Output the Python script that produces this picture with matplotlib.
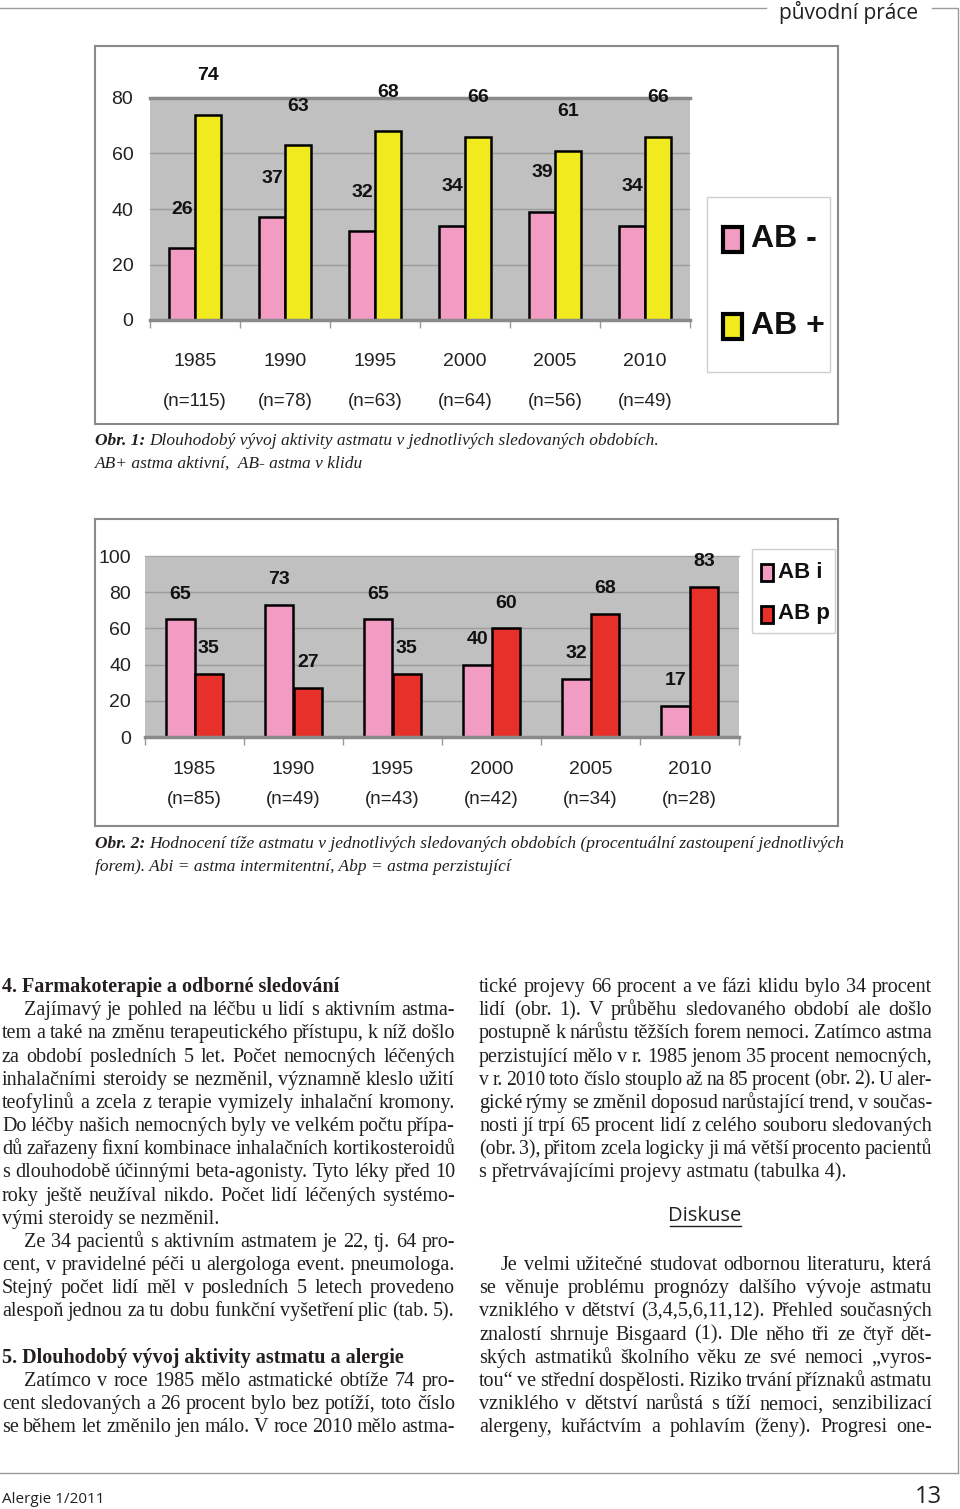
import numpy as np
import matplotlib
matplotlib.use('Agg')
import matplotlib.pyplot as plt
from matplotlib import font_manager as fm
from matplotlib.patches import Rectangle

# data
years = ['1985', '1990', '1995', '2000', '2005', '2010']
n_obr1 = [115, 78, 63, 64, 56, 49]
ab_minus = [26, 37, 32, 34, 39, 34]
ab_plus = [74, 63, 68, 66, 61, 66]
n_obr2 = [85, 49, 43, 42, 34, 28]
ab_i = [65, 73, 65, 40, 32, 17]
ab_p = [35, 27, 35, 60, 68, 83]

# text of the page, (line, kind): h=heading, i=indented justified, j=justified, l=last line
left_col = [
    ('4. Farmakoterapie a odborné sledování', 'h'),
    ('Zajímavý je pohled na léčbu u lidí s aktivním astma-', 'i'),
    ('tem a také na změnu terapeutického přístupu, k níž došlo', 'j'),
    ('za období posledních 5 let. Počet nemocných léčených', 'j'),
    ('inhalačními steroidy se nezměnil, významně kleslo užití', 'j'),
    ('teofylinů a zcela z terapie vymizely inhalační kromony.', 'j'),
    ('Do léčby našich nemocných byly ve velkém počtu přípa-', 'j'),
    ('dů zařazeny fixní kombinace inhalačních kortikosteroidů', 'j'),
    ('s dlouhodobě účinnými beta-agonisty. Tyto léky před 10', 'j'),
    ('roky ještě neužíval nikdo. Počet lidí léčených systémo-', 'j'),
    ('vými steroidy se nezměnil.', 'l'),
    ('Ze 34 pacientů s aktivním astmatem je 22, tj. 64 pro-', 'i'),
    ('cent, v pravidelné péči u alergologa event. pneumologa.', 'j'),
    ('Stejný počet lidí měl v posledních 5 letech provedeno', 'j'),
    ('alespoň jednou za tu dobu funkční vyšetření plic (tab. 5).', 'j'),
    ('', 'l'),
    ('5. Dlouhodobý vývoj aktivity astmatu a alergie', 'h'),
    ('Zatímco v roce 1985 mělo astmatické obtíže 74 pro-', 'i'),
    ('cent sledovaných a 26 procent bylo bez potíží, toto číslo', 'j'),
    ('se během let změnilo jen málo. V roce 2010 mělo astma-', 'j'),
]
right_col = [
    ('tické projevy 66 procent a ve fázi klidu bylo 34 procent', 'j'),
    ('lidí (obr. 1). V průběhu sledovaného období ale došlo', 'j'),
    ('postupně k nárůstu těžších forem nemoci. Zatímco astma', 'j'),
    ('perzistující mělo v r. 1985 jenom 35 procent nemocných,', 'j'),
    ('v r. 2010 toto číslo stouplo až na 85 procent (obr. 2). U aler-', 'j'),
    ('gické rýmy se změnil doposud narůstající trend, v součas-', 'j'),
    ('nosti jí trpí 65 procent lidí z celého souboru sledovaných', 'j'),
    ('(obr. 3), přitom zcela logicky ji má větší procento pacientů', 'j'),
    ('s přetrvávajícími projevy astmatu (tabulka 4).', 'l'),
    ('', 'l'), ('', 'l'), ('', 'l'),
    ('Je velmi užitečné studovat odbornou literaturu, která', 'i'),
    ('se věnuje problému prognózy dalšího vývoje astmatu', 'j'),
    ('vzniklého v dětství (3,4,5,6,11,12). Přehled současných', 'j'),
    ('znalostí shrnuje Bisgaard (1). Dle něho tři ze čtyř dět-', 'j'),
    ('ských astmatiků školního věku ze své nemoci „vyros-', 'j'),
    ('tou“ ve střední dospělosti. Riziko trvání příznaků astmatu', 'j'),
    ('vzniklého v dětství narůstá s tíží nemoci, senzibilizací', 'j'),
    ('alergeny, kuřáctvím a pohlavím (ženy). Progresi one-', 'j'),
]

names = {f.name for f in fm.fontManager.ttflist}
narrow = 'Liberation Sans Narrow' if 'Liberation Sans Narrow' in names else 'Liberation Sans'
serif = 'Liberation Serif'
sans = 'Open Sans'

pink = '#f29bc3'
yellow = '#f0ea1e'
red = '#e8302a'
gray = '#c0c0c0'
ink = '#231f20'

W, H = 960, 1509
fig = plt.figure(figsize=(W / 100, H / 100), dpi=100)
page = fig.add_axes([0, 0, 1, 1])
page.set_xlim(0, W)
page.set_ylim(H, 0)
page.axis('off')
renderer = fig.canvas.get_renderer()

# header / footer rules
page.plot([0, 766], [8, 8], color='#9a9a9a', lw=1)
page.plot([932, 958, 958], [8, 8, 1473], color='#9a9a9a', lw=1)
page.plot([0, 958], [1473, 1473], color='#9a9a9a', lw=1)
page.text(779, 19, 'původní práce', fontsize=15, family=sans, color=ink, va='baseline')
page.text(2, 1503, 'Alergie 1/2011', fontsize=11, family=sans, color=ink, va='baseline')
page.text(942, 1503, '13', fontsize=17, family=sans, color=ink, va='baseline', ha='right')


def bar_chart(frame, plot, a, b, ca, cb, ns, ymax, step, pad, dy_year, dy_n, top_dark):
    page.add_patch(Rectangle((frame[0], frame[1]), frame[2] - frame[0], frame[3] - frame[1],
                             facecolor='white', edgecolor='#8a8a8a', lw=1.5))
    l, t, r, btm = plot
    ax = fig.add_axes([l / W, 1 - btm / H, (r - l) / W, (btm - t) / H])
    ax.set_facecolor(gray)
    x = np.arange(len(years))
    bw = 0.29
    ax.bar(x - bw / 2, a, bw, color=ca, edgecolor='black', lw=1.8, zorder=3)
    ax.bar(x + bw / 2, b, bw, color=cb, edgecolor='black', lw=1.8, zorder=3)
    for xi, va_, vb_ in zip(x, a, b):
        ax.text(xi - bw / 2, va_ + 14, str(va_), ha='center', va='center', fontsize=14,
                fontweight='bold', family=narrow, color='#111', clip_on=False)
        ax.text(xi + bw / 2, vb_ + 14, str(vb_), ha='center', va='center', fontsize=14,
                fontweight='bold', family=narrow, color='#111', clip_on=False)
        ax.annotate(years[xi], (xi, 0), xytext=(0, -dy_year), textcoords='offset pixels',
                    ha='center', va='center', fontsize=14, family=narrow, color='#222')
        ax.annotate('(n=%d)' % ns[xi], (xi, 0), xytext=(0, -dy_n), textcoords='offset pixels',
                    ha='center', va='center', fontsize=13.5, family=narrow, color='#222')
    ax.set_xlim(-0.5, len(years) - 0.5)
    ax.set_ylim(0, ymax)
    ax.set_yticks(np.arange(0, ymax + 1, step))
    ax.set_yticklabels([str(v) for v in np.arange(0, ymax + 1, step)], family=narrow,
                       fontsize=14, color='#222')
    ax.tick_params(axis='y', length=0, pad=pad)
    ax.set_xticks(np.arange(-0.5, len(years), 1))
    ax.set_xticklabels([])
    ax.tick_params(axis='x', direction='out', length=6, color='#9a9a9a', width=1)
    for s in ax.spines.values():
        s.set_visible(False)
    for v in np.arange(step, ymax, step):
        ax.axhline(v, color='#9c9c9c', lw=1, zorder=1)
    ax.axhline(0, color='#8a8a8a', lw=2.5, zorder=4, clip_on=False)
    ax.axhline(ymax, color='#8a8a8a' if top_dark else '#a8a8a8', lw=2.5 if top_dark else 1,
               zorder=2, clip_on=False)
    return ax


# Obr. 1
bar_chart((95, 46, 838, 424), (150, 98, 690, 320), ab_minus, ab_plus, pink, yellow,
          n_obr1, 80, 20, 12, 42, 81, True)
page.add_patch(Rectangle((707, 197), 123, 175, facecolor='white', edgecolor='#cfcfcf', lw=1))
for lab, col, yy in [('AB -', pink, 239), ('AB +', yellow, 326)]:
    page.add_patch(Rectangle((723, yy - 12), 19, 25, facecolor=col, edgecolor='black', lw=3))
    page.text(751, yy, lab, fontsize=23, fontweight='bold', family=narrow, color='#111',
              va='center')

# Obr. 2
bar_chart((95, 519, 838, 826), (145, 556, 739, 737), ab_i, ab_p, pink, red,
          n_obr2, 100, 20, 10, 32, 62, False)
page.add_patch(Rectangle((752, 549), 83, 84, facecolor='white', edgecolor='#cfcfcf', lw=1))
for lab, col, yy in [('AB i', pink, 572), ('AB p', red, 614)]:
    page.add_patch(Rectangle((761, yy - 8), 12, 17, facecolor=col, edgecolor='black', lw=2))
    page.text(778, yy, lab, fontsize=16, fontweight='bold', family=narrow, color='#111',
              va='center')


def caption(x, y, bold, rest, lines_after, size=12.5):
    t = page.text(x, y, bold, fontsize=size, family=serif, style='italic', fontweight='bold',
                  color=ink, va='baseline')
    w = t.get_window_extent(renderer).width
    page.text(x + w + 4, y, rest, fontsize=size, family=serif, style='italic', color=ink,
              va='baseline')
    for k, ln in enumerate(lines_after):
        page.text(x, y + 23 * (k + 1), ln, fontsize=size, family=serif, style='italic',
                  color=ink, va='baseline')


caption(95, 445, 'Obr. 1:', 'Dlouhodobý vývoj aktivity astmatu v jednotlivých sledovaných obdobích.',
        ['AB+ astma aktivní,  AB- astma v klidu'])
caption(95, 848, 'Obr. 2:', 'Hodnocení tíže astmatu v jednotlivých sledovaných obdobích (procentuální zastoupení jednotlivých',
        ['forem). Abi = astma intermitentní, Abp = astma perzistující'])


def column(lines, x0, width, y0, step, size=14.5, min_gap=3.5):
    for k, (txt, kind) in enumerate(lines):
        if not txt:
            continue
        y = y0 + k * step
        if kind == 'h':
            page.text(x0, y, txt, fontsize=size, family=serif, fontweight='bold', color=ink,
                      va='baseline')
            continue
        if kind == 'l':
            page.text(x0, y, txt, fontsize=size, family=serif, color=ink, va='baseline')
            continue
        indent = 22 if kind == 'i' else 0
        words = txt.split(' ')
        arts = [page.text(0, y, wd, fontsize=size, family=serif, color=ink, va='baseline')
                for wd in words]
        widths = [a.get_window_extent(renderer).width for a in arts]
        room = width - indent - min_gap * (len(words) - 1)
        if sum(widths) > room:
            s2 = size * room / sum(widths)
            for a in arts:
                a.set_fontsize(s2)
            widths = [a.get_window_extent(renderer).width for a in arts]
        gap = (width - indent - sum(widths)) / (len(words) - 1)
        xx = x0 + indent
        for a, wdt in zip(arts, widths):
            a.set_x(xx)
            xx += wdt + gap


column(left_col, 2, 453, 992, 23.17)
column(right_col, 479, 453, 992, 23.17)

page.text(705, 1221, 'Diskuse', fontsize=14.5, family=sans, color=ink, ha='center',
          va='baseline')
page.plot([670, 741], [1226, 1226], color=ink, lw=1)

fig.savefig('out.png', dpi=100)
